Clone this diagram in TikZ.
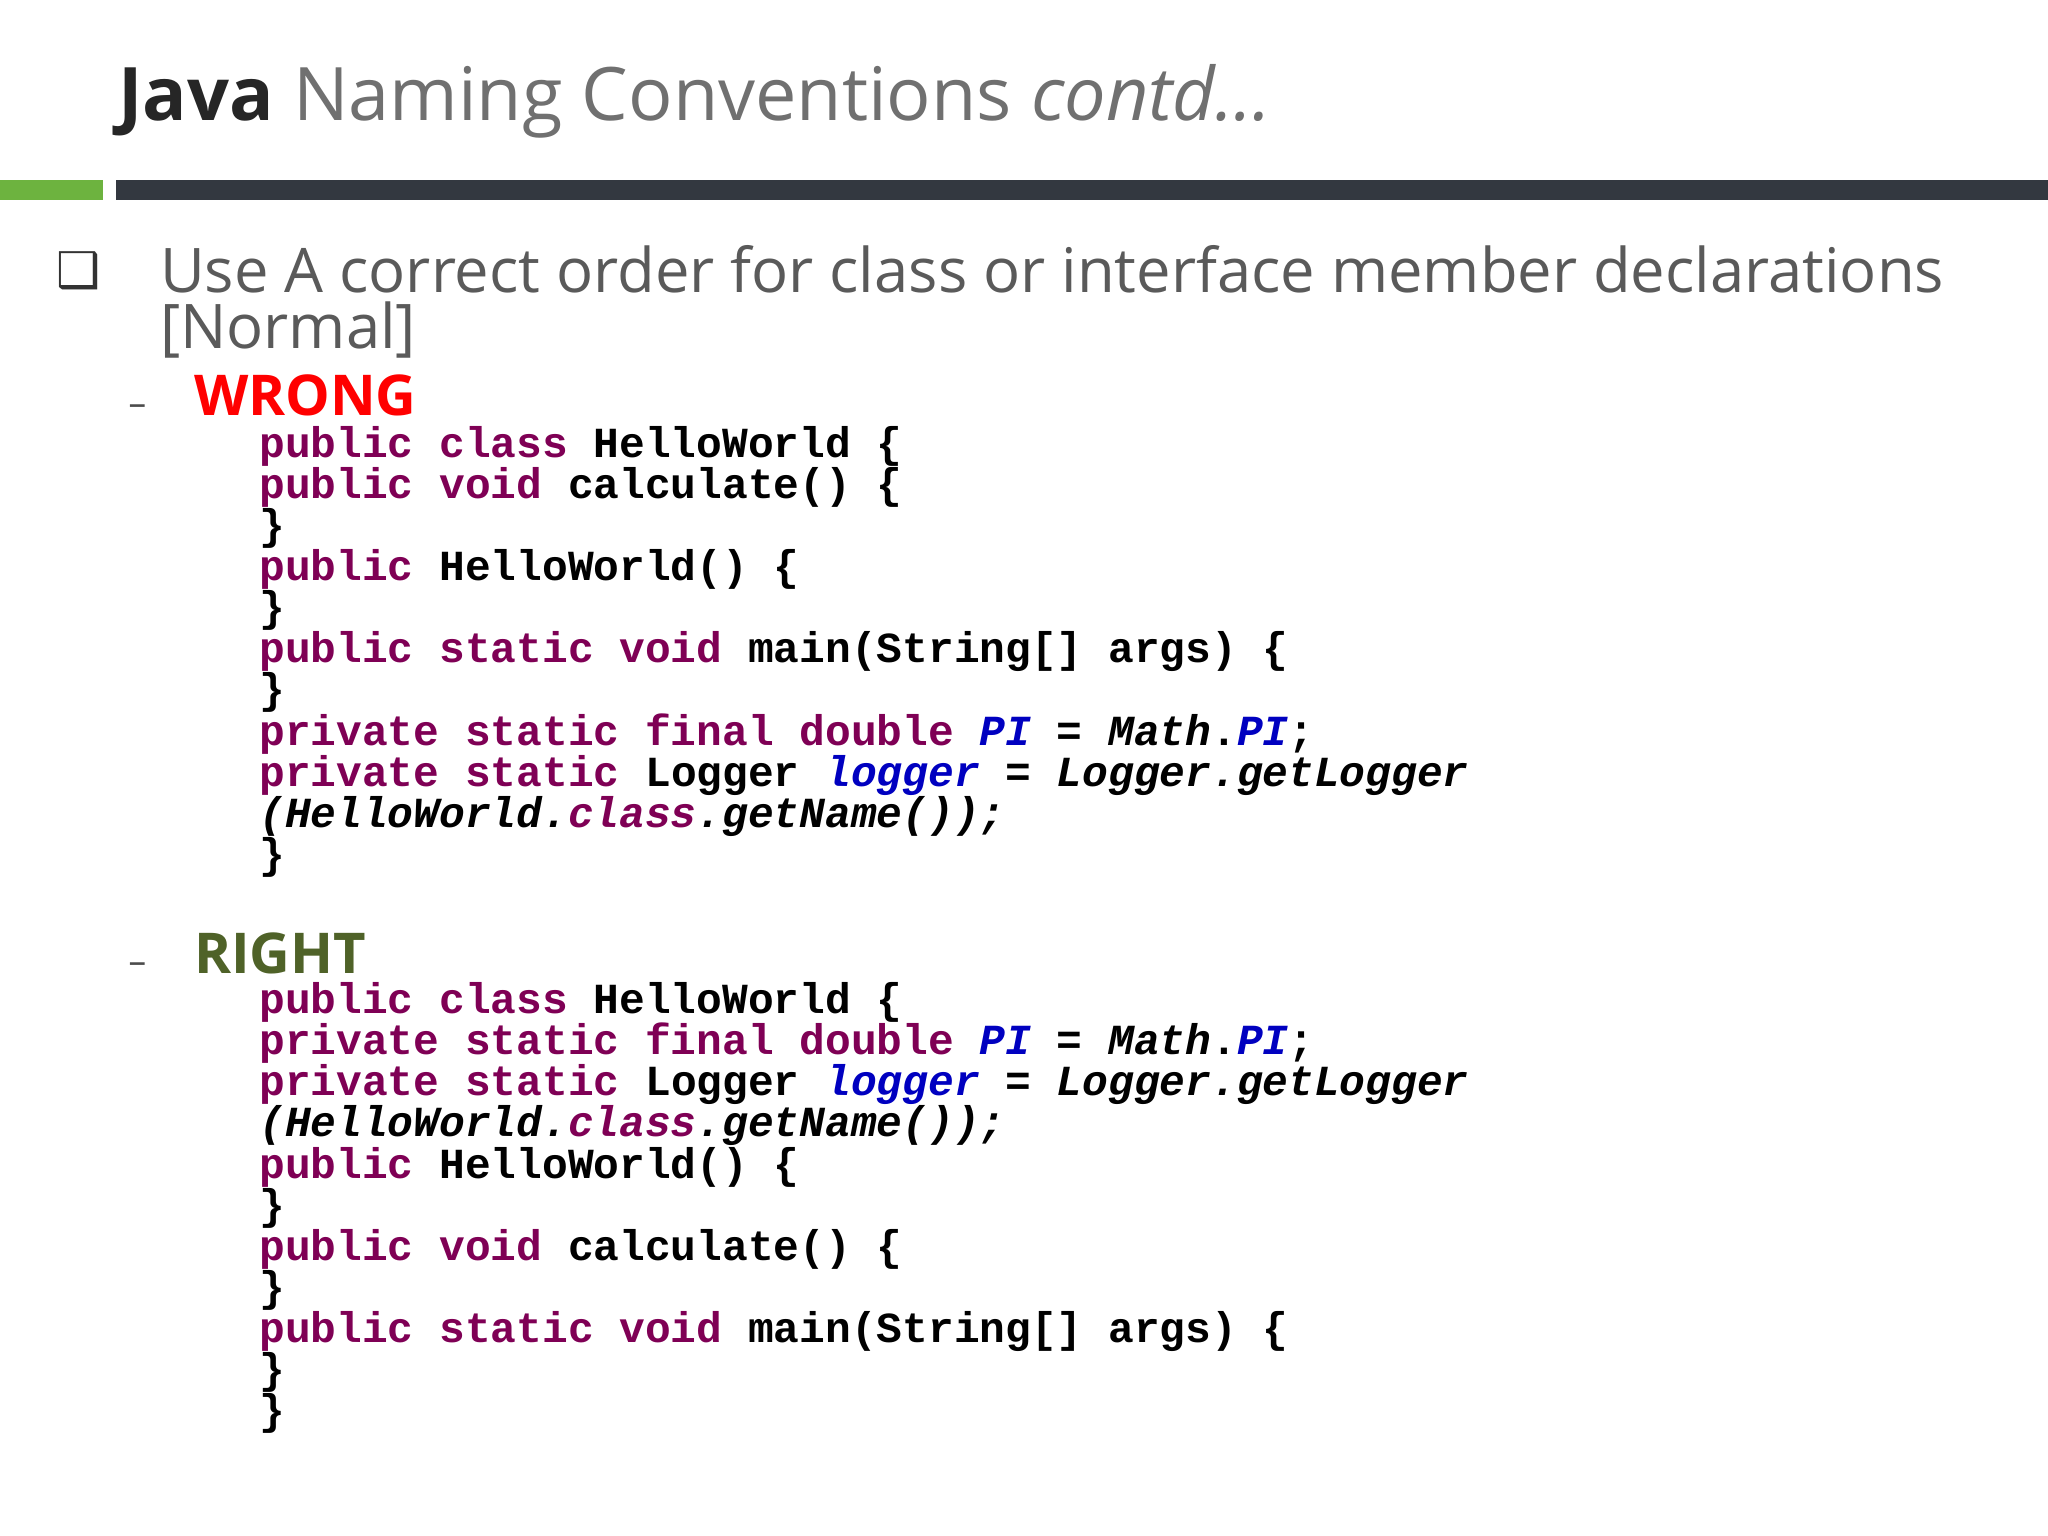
\documentclass[tikz,border=0pt]{standalone}
\usepackage{fontspec}
\setmainfont{Open Sans}
\setmonofont{Liberation Mono}
\newfontfamily\symf{DejaVu Sans}
\definecolor{kwc}{HTML}{7F0055}
\definecolor{fdc}{HTML}{0000C0}
\definecolor{grn}{HTML}{4F6228}
\definecolor{barg}{HTML}{6DB33F}
\definecolor{bard}{HTML}{333840}
\definecolor{ttl}{HTML}{707070}
\newcommand{\kw}[1]{\textcolor{kwc}{#1}}
\newcommand{\fd}[1]{\textcolor{fdc}{\itshape #1}}
\tikzset{code/.style={anchor=base west,inner sep=0,font=\ttfamily\bfseries\fontsize{12.2pt}{14pt}\selectfont},
  body/.style={anchor=base west,inner sep=0,text=ttl!80!black,font=\fontsize{17.5pt}{20pt}\selectfont},
  head/.style={anchor=base west,inner sep=0,font=\bfseries\fontsize{16pt}{18pt}\selectfont}}
\begin{document}
\begin{tikzpicture}[x=0.01306cm,y=-0.01306cm]
\useasboundingbox[fill=white] (0,0) rectangle (1568,1176);
\fill[barg] (0,138) rectangle (79,153);
\fill[bard] (89,138) rectangle (1568,153);
\node[anchor=base west,inner sep=0,font=\fontsize{21pt}{24pt}\selectfont] (title) at (90,92) {\textbf{\textcolor{black!85}{Java}} \textcolor{ttl}{Naming Conventions \textit{contd…}}};
\node[anchor=base,inner sep=0,font=\symf\fontsize{14pt}{16pt}\selectfont,text=black!80] (bx) at (60,220) {❑};
\node[body] (l1) at (122,224) {Use A correct order for class or interface member declarations};
\node[body] (l2) at (122,267) {[Normal]};
\node[anchor=base west,inner sep=0,text=black!70] (d1) at (98,318) {–};
\node[head,text=red] (wrong) at (148,318) {WRONG};
\node[anchor=base west,inner sep=0,text=black!70] (d2) at (98,745) {–};
\node[head,text=grn] (right) at (148,745) {RIGHT};
\foreach \t [count=\i] in {
 {\kw{public class} HelloWorld \{},
 {\kw{public void} calculate() \{},
 {\}},
 {\kw{public} HelloWorld() \{},
 {\}},
 {\kw{public static void} main(String[] args) \{},
 {\}},
 {\kw{private static final double} \fd{PI} = \textit{Math}.\fd{PI};},
 {\kw{private static} Logger \fd{logger} = \textit{Logger.getLogger}},
 {\textit{(HelloWorld.\kw{class}.getName());}},
 {\}}}
 \node[code] (w\i) at (198,{341+31.5*(\i-1)+9}) {\t};
\foreach \t [count=\i] in {
 {\kw{public class} HelloWorld \{},
 {\kw{private static final double} \fd{PI} = \textit{Math}.\fd{PI};},
 {\kw{private static} Logger \fd{logger} = \textit{Logger.getLogger}},
 {\textit{(HelloWorld.\kw{class}.getName());}},
 {\kw{public} HelloWorld() \{},
 {\}},
 {\kw{public void} calculate() \{},
 {\}},
 {\kw{public static void} main(String[] args) \{},
 {\}},
 {\}}}
 \node[code] (r\i) at (198,{767+31.5*(\i-1)+9}) {\t};
\end{tikzpicture}
\end{document}
